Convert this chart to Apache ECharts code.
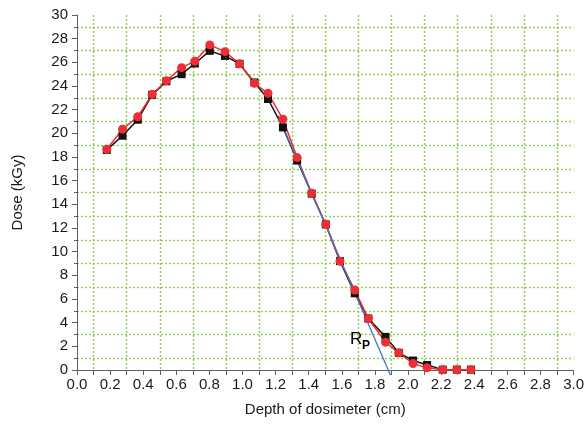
<!DOCTYPE html>
<html>
<head>
<meta charset="utf-8">
<script src="https://cdn.jsdelivr.net/npm/echarts@6/dist/echarts.min.js"></script>
<style>html,body{margin:0;padding:0;background:#fff}#c{width:587px;height:432px}</style>
</head>
<body>
<div id="c"></div>
<script>
// Data
const depth = [0.18, 0.275, 0.367, 0.454, 0.54, 0.632, 0.712, 0.802, 0.894, 0.982, 1.072, 1.154, 1.244, 1.33, 1.418, 1.503, 1.589, 1.678, 1.76, 1.864, 1.944, 2.03, 2.115, 2.21, 2.295, 2.38];
const doseRed = [18.65, 20.35, 21.4, 23.3, 24.45, 25.55, 26.1, 27.47, 26.9, 25.87, 24.23, 23.38, 21.2, 17.95, 14.93, 12.3, 9.2, 6.76, 4.35, 2.35, 1.45, 0.55, 0.18, 0.03, 0.03, 0.03];
const doseBlack = [18.6, 19.8, 21.15, 23.25, 24.4, 25.0, 25.9, 26.97, 26.54, 25.87, 24.3, 22.9, 20.5, 17.7, 14.9, 12.3, 9.2, 6.48, 4.35, 2.8, 1.45, 0.8, 0.42, 0.03, 0.03, 0.03];
const tangentX = [1.215, 1.894];
const tangentY = [21.5, -0.45];
const labelR = [1.686, 2.62];
const labelP = [1.746, 2.03];
const xTitle = 'Depth of dosimeter (cm)';
const yTitle = 'Dose (kGy)';

const font = '"Liberation Sans", Arial, sans-serif';
const axisColor = '#606060';
const gridLine = { show: true, lineStyle: { color: '#8fce4e', type: [2, 2], width: 1.4 } };

const pairs = (xs, ys) => xs.map((x, i) => [x, ys[i]]);

const chart = echarts.init(document.getElementById('c'), null, { renderer: 'canvas' });
chart.setOption({
  animation: false,
  backgroundColor: '#fff',
  grid: { left: 77, right: 10, top: 15, bottom: 62, containLabel: false },
  xAxis: {
    type: 'value', min: 0, max: 3, interval: 0.2,
    name: xTitle, nameLocation: 'middle', nameGap: 32,
    nameTextStyle: { fontFamily: font, fontSize: 15, color: '#1a1a1a' },
    axisLine: { show: true, onZero: false, lineStyle: { color: axisColor, width: 1 } },
    axisTick: { show: true, length: 5, lineStyle: { color: axisColor } },
    minorTick: { show: true, splitNumber: 2, length: 5, lineStyle: { color: axisColor } },
    splitLine: { show: false },
    minorSplitLine: gridLine,
    axisLabel: { fontFamily: font, fontSize: 15, color: '#1a1a1a', margin: 7, formatter: v => v.toFixed(1) }
  },
  yAxis: {
    type: 'value', min: 0, max: 30, interval: 2,
    name: yTitle, nameLocation: 'middle', nameGap: 52,
    nameTextStyle: { fontFamily: font, fontSize: 15, color: '#1a1a1a' },
    axisLine: { show: true, lineStyle: { color: axisColor, width: 1 } },
    axisTick: { show: true, length: 5, lineStyle: { color: axisColor } },
    minorTick: { show: true, splitNumber: 2, length: 3, lineStyle: { color: axisColor } },
    splitLine: { show: false },
    minorSplitLine: gridLine,
    axisLabel: { fontFamily: font, fontSize: 15, color: '#1a1a1a', margin: 9 }
  },
  series: [
    {
      type: 'line', data: pairs(depth, doseBlack),
      symbol: 'rect', symbolSize: 8,
      itemStyle: { color: '#111' },
      lineStyle: { color: '#111', width: 1.5 }
    },
    {
      type: 'line', data: pairs(depth, doseRed),
      symbol: 'circle', symbolSize: 9,
      itemStyle: { color: '#ec2f35' },
      lineStyle: { color: '#ec2f35', width: 1.5 }
    },
    {
      type: 'line', data: pairs(tangentX, tangentY),
      symbol: 'none', clip: false,
      lineStyle: { color: '#4a72c8', width: 1.3 }
    },
    {
      type: 'scatter', symbolSize: 0, silent: true,
      itemStyle: { opacity: 1 },
      data: [labelR],
      label: { show: true, position: 'inside', formatter: 'R', fontFamily: font, fontSize: 17, color: '#000', textBorderWidth: 0 }
    },
    {
      type: 'scatter', symbolSize: 0, silent: true,
      itemStyle: { opacity: 1 },
      data: [labelP],
      label: { show: true, position: 'inside', formatter: 'P', fontFamily: font, fontSize: 12, fontWeight: 'bold', color: '#000', textBorderWidth: 0 }
    }
  ]
});
</script>
</body>
</html>
